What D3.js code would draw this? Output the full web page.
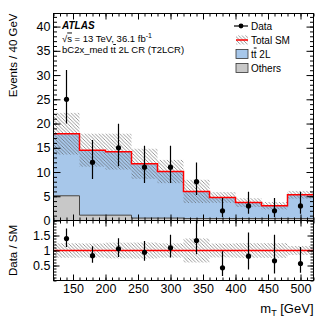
<!DOCTYPE html>
<html>
<head>
<meta charset="utf-8">
<script src="https://cdn.jsdelivr.net/npm/d3@7"></script>
<style>
  body { margin: 0; background: #fff; }
  svg { display: block; font-family: "Liberation Sans", Arial, sans-serif; }
</style>
</head>
<body>
<script>
// bins of mT, 40 GeV wide
const binEdges = [120, 160, 200, 240, 280, 320, 360, 400, 440, 480, 520];

// stacked backgrounds
const others  = [5.1, 1.1, 1.1, 0.5, 0.5, 0.4, 0.4, 0.4, 0.4, 0.4];
const ttbar2L = [12.8, 13.4, 13.1, 11.2, 9.6, 5.6, 4.35, 3.3, 2.65, 4.9];
const smErr   = [4.3, 3.4, 3.7, 3.1, 2.4, 2.4, 1.1, 0.9, 0.75, 0.8]; // hatched band

// data with asymmetric poisson errors
const dataCounts  = [25, 12, 15, 11, 11, 8, 2, 3, 2, 3];
const dataErrUp   = [6.06, 4.58, 4.95, 4.43, 4.43, 3.96, 2.64, 2.92, 2.64, 2.92];
const dataErrDown = [4.97, 3.44, 3.83, 3.28, 3.28, 2.76, 1.29, 1.63, 1.29, 1.63];

const xMajorTicks = [150, 200, 250, 300, 350, 400, 450, 500];
const yMainTicks  = [0, 5, 10, 15, 20, 25, 30, 35, 40];
const yRatioTicks = [0.5, 1, 1.5];

const svgWidth = 332;
const svgHeight = 322;
const plotLeft = 53.5, plotRight = 313.5;
const mainTop = 13.5, mainBottom = 220.5, ratioBottom = 280.5;

const blue = "#a7c7ea";
const grey = "#c8c8c8";

const totalSM = others.map((d, i) => d + ttbar2L[i]);
const centers = binEdges.slice(0, -1).map((d, i) => (d + binEdges[i + 1]) / 2);

const x = d3.scaleLinear().domain([120, 520]).range([plotLeft, plotRight]);
const yMain = d3.scaleLinear().domain([0, 42.7]).range([mainBottom, mainTop]);
const yRatio = d3.scaleLinear().domain([0, 2]).range([ratioBottom, mainBottom]);

const svg = d3.select("body").append("svg")
  .attr("width", svgWidth)
  .attr("height", svgHeight);

const defs = svg.append("defs");
defs.append("pattern")
  .attr("id", "hatch")
  .attr("patternUnits", "userSpaceOnUse")
  .attr("width", 3.5).attr("height", 3.5)
  .append("path")
  .attr("d", "M-1,-1L4.5,4.5M-1,2.5L1,4.5M2.5,-1L4.5,1")
  .attr("stroke", "#555").attr("stroke-width", 0.6);

defs.append("clipPath").attr("id", "clipMain").append("rect")
  .attr("x", plotLeft).attr("y", mainTop)
  .attr("width", plotRight - plotLeft).attr("height", mainBottom - mainTop);
defs.append("clipPath").attr("id", "clipRatio").append("rect")
  .attr("x", plotLeft).attr("y", mainBottom)
  .attr("width", plotRight - plotLeft).attr("height", ratioBottom - mainBottom);

// step helper: one point per edge, last value repeated
function steps(lo, hi) {
  return binEdges.map((e, i) => {
    const k = Math.min(i, lo.length - 1);
    return { x: e, lo: lo[k], hi: hi[k] };
  });
}

const stepArea = (ys) => d3.area()
  .curve(d3.curveStepAfter)
  .x(d => x(d.x))
  .y0(d => ys(d.lo))
  .y1(d => ys(d.hi));

const stepLine = (ys) => d3.line()
  .curve(d3.curveStepAfter)
  .x(d => x(d.x))
  .y(d => ys(d.hi));

// ---------- main panel ----------
const main = svg.append("g").attr("clip-path", "url(#clipMain)");

const zeros = others.map(() => 0);

main.append("path") // ttbar 2L stacked on top of others
  .datum(steps(others, totalSM))
  .attr("d", stepArea(yMain))
  .attr("fill", blue);

main.append("path") // others
  .datum(steps(zeros, others))
  .attr("d", stepArea(yMain))
  .attr("fill", grey);
main.append("path")
  .datum(steps(zeros, others))
  .attr("d", stepLine(yMain))
  .attr("fill", "none").attr("stroke", "#444").attr("stroke-width", 1);

// uncertainty band, drawn per bin
main.selectAll("rect.band")
  .data(totalSM)
  .enter().append("rect")
  .attr("class", "band")
  .attr("x", (d, i) => x(binEdges[i]))
  .attr("width", (d, i) => x(binEdges[i + 1]) - x(binEdges[i]))
  .attr("y", (d, i) => yMain(d + smErr[i]))
  .attr("height", (d, i) => yMain(d - smErr[i]) - yMain(d + smErr[i]))
  .attr("fill", "url(#hatch)");

main.append("path") // total SM
  .datum(steps(zeros, totalSM))
  .attr("d", stepLine(yMain))
  .attr("fill", "none").attr("stroke", "#f00").attr("stroke-width", 1.5);

function drawPoints(g, ys, vals, up, down) {
  g.selectAll("line.err")
    .data(vals)
    .enter().append("line")
    .attr("class", "err")
    .attr("x1", (d, i) => x(centers[i])).attr("x2", (d, i) => x(centers[i]))
    .attr("y1", (d, i) => ys(d + up[i])).attr("y2", (d, i) => ys(d - down[i]))
    .attr("stroke", "#000").attr("stroke-width", 1.2);
  g.selectAll("circle.pt")
    .data(vals)
    .enter().append("circle")
    .attr("class", "pt")
    .attr("cx", (d, i) => x(centers[i]))
    .attr("cy", d => ys(d))
    .attr("r", 2.6)
    .attr("fill", "#000");
}

drawPoints(main, yMain, dataCounts, dataErrUp, dataErrDown);

// ---------- ratio panel ----------
const ratio = svg.append("g").attr("clip-path", "url(#clipRatio)");

ratio.selectAll("rect.band")
  .data(totalSM)
  .enter().append("rect")
  .attr("class", "band")
  .attr("x", (d, i) => x(binEdges[i]))
  .attr("width", (d, i) => x(binEdges[i + 1]) - x(binEdges[i]))
  .attr("y", (d, i) => yRatio(1 + smErr[i] / d))
  .attr("height", (d, i) => yRatio(1 - smErr[i] / d) - yRatio(1 + smErr[i] / d))
  .attr("fill", "url(#hatch)");

ratio.append("line")
  .attr("x1", plotLeft).attr("x2", plotRight)
  .attr("y1", yRatio(1)).attr("y2", yRatio(1))
  .attr("stroke", "#f00").attr("stroke-width", 1.5);

drawPoints(ratio, yRatio,
  dataCounts.map((d, i) => d / totalSM[i]),
  dataErrUp.map((d, i) => d / totalSM[i]),
  dataErrDown.map((d, i) => d / totalSM[i]));

// ---------- axes (root style, ticks inside on all four sides) ----------
const xMinor = d3.range(120, 521, 10);

function xTicks(yPos, top, labels) {
  const mk = top ? d3.axisTop : d3.axisBottom;
  const gMin = svg.append("g").attr("transform", "translate(0," + yPos + ")")
    .call(mk(x).tickValues(xMinor).tickSize(-3).tickFormat(""));
  const gMaj = svg.append("g").attr("transform", "translate(0," + yPos + ")")
    .call(mk(x).tickValues(xMajorTicks).tickSize(-6).tickPadding(4)
      .tickFormat(labels ? d3.format("d") : ""));
  [gMin, gMaj].forEach(g => g.select(".domain").remove());
  return gMaj;
}

function yTicks(ys, minor, major, fmt, left, len) {
  const xPos = left ? plotLeft : plotRight;
  const mk = left ? d3.axisLeft : d3.axisRight;
  const gMin = svg.append("g").attr("transform", "translate(" + xPos + ",0)")
    .call(mk(ys).tickValues(minor).tickSize(-len / 2).tickFormat(""));
  const gMaj = svg.append("g").attr("transform", "translate(" + xPos + ",0)")
    .call(mk(ys).tickValues(major).tickSize(-len).tickPadding(3)
      .tickFormat(left ? fmt : ""));
  [gMin, gMaj].forEach(g => g.select(".domain").remove());
  return gMaj;
}

xTicks(mainTop, true, false);
xTicks(mainBottom, false, false);
xTicks(mainBottom, true, false);
xTicks(ratioBottom, false, true);

const mainMinor = d3.range(0, 42.1, 1);
const ratioMinor = d3.range(0, 2.01, 0.1).map(d => +d.toFixed(1));
yTicks(yMain, mainMinor, yMainTicks, d3.format("d"), true, 7);
yTicks(yMain, mainMinor, yMainTicks, null, false, 7);
yTicks(yRatio, ratioMinor, yRatioTicks, d => d3.format("")(d), true, 6);
yTicks(yRatio, ratioMinor, yRatioTicks, null, false, 6);

svg.selectAll(".tick line").attr("stroke", "#000");
svg.selectAll(".tick text").attr("font-size", 12.5).attr("fill", "#000")
  .attr("font-family", "Liberation Sans, Arial, sans-serif");

// frames
[[mainTop, mainBottom], [mainBottom, ratioBottom]].forEach(p => {
  svg.append("rect")
    .attr("x", plotLeft).attr("y", p[0])
    .attr("width", plotRight - plotLeft).attr("height", p[1] - p[0])
    .attr("fill", "none").attr("stroke", "#000").attr("stroke-width", 1);
});

// ---------- titles ----------
svg.append("text")
  .attr("transform", "translate(17," + mainTop + ") rotate(-90)")
  .attr("text-anchor", "end")
  .attr("font-size", 11.5)
  .text("Events / 40 GeV");

svg.append("text")
  .attr("transform", "translate(17," + yRatio(1) + ") rotate(-90)")
  .attr("text-anchor", "middle")
  .attr("font-size", 11.5)
  .text("Data / SM");

const xt = svg.append("text")
  .attr("x", plotRight).attr("y", 313)
  .attr("text-anchor", "end")
  .attr("font-size", 13);
xt.append("tspan").text("m");
xt.append("tspan").attr("font-size", 9).attr("dy", 3).text("T");
xt.append("tspan").attr("dy", -3).text(" [GeV]");

// ATLAS label block
svg.append("text")
  .attr("x", 62).attr("y", 29)
  .attr("font-size", 10).attr("font-weight", "bold").attr("font-style", "italic")
  .text("ATLAS");

const lumi = svg.append("text").attr("x", 62).attr("y", 41.5).attr("font-size", 9.5);
lumi.append("tspan").text("√");
lumi.append("tspan").attr("text-decoration", "overline").text("s");
lumi.append("tspan").text(" = 13 TeV, 36.1 fb");
lumi.append("tspan").attr("font-size", 7).attr("dy", -4).text("-1");

const reg = svg.append("text").attr("x", 62).attr("y", 53).attr("font-size", 9.5);
reg.append("tspan").text("bC2x_med t");
reg.append("tspan").attr("text-decoration", "overline").text("t");
reg.append("tspan").text(" 2L CR (T2LCR)");

// ---------- legend ----------
const legendRows = [26, 40, 54, 68];
const lg = svg.append("g");

lg.append("line").attr("x1", 234).attr("x2", 248)
  .attr("y1", legendRows[0]).attr("y2", legendRows[0])
  .attr("stroke", "#000").attr("stroke-width", 1.2);
lg.append("circle").attr("cx", 241).attr("cy", legendRows[0]).attr("r", 2.4);

lg.append("rect").attr("x", 236).attr("y", legendRows[1] - 4.5)
  .attr("width", 12).attr("height", 9).attr("fill", "url(#hatch)");
lg.append("line").attr("x1", 236).attr("x2", 248)
  .attr("y1", legendRows[1]).attr("y2", legendRows[1])
  .attr("stroke", "#f00").attr("stroke-width", 1.5);

lg.append("rect").attr("x", 236).attr("y", legendRows[2] - 4.5)
  .attr("width", 12).attr("height", 9)
  .attr("fill", blue).attr("stroke", "#333").attr("stroke-width", 0.8);
lg.append("rect").attr("x", 236).attr("y", legendRows[3] - 4.5)
  .attr("width", 12).attr("height", 9)
  .attr("fill", grey).attr("stroke", "#333").attr("stroke-width", 0.8);

const lgText = (row) => lg.append("text")
  .attr("x", 251).attr("y", legendRows[row] + 3.5).attr("font-size", 10);
lgText(0).text("Data");
lgText(1).text("Total SM");
const tt = lgText(2);
tt.append("tspan").text("t");
tt.append("tspan").attr("text-decoration", "overline").text("t");
tt.append("tspan").text(" 2L");
lgText(3).text("Others");
</script>
</body>
</html>
